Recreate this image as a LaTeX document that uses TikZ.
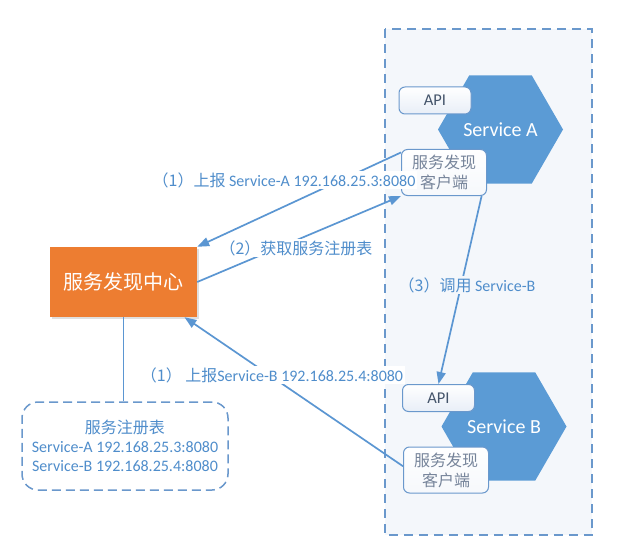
\documentclass[tikz,border=0pt]{standalone}
\usepackage{fontspec}
\setmainfont{Carlito}
\newfontfamily\cjk{Noto Sans CJK SC}
\usetikzlibrary{shapes.geometric,arrows.meta,shadows}
\definecolor{hexblue}{HTML}{5B9BD5}
\definecolor{lineblue}{HTML}{5B96D2}
\definecolor{labelblue}{HTML}{4F8DCB}
\definecolor{boxedge}{HTML}{6A98CC}
\definecolor{contfill}{HTML}{F4F7FB}
\definecolor{apitext}{HTML}{44546A}
\definecolor{clienttext}{HTML}{76849A}
\definecolor{orangebox}{HTML}{ED7D31}
\definecolor{boxshade}{HTML}{E8EEF7}
\begin{document}
\begin{tikzpicture}[x=1pt,y=-1pt,
  hexa/.style={regular polygon, regular polygon sides=6, minimum size=125pt,
    inner sep=0pt, outer sep=0pt, fill=hexblue, text=white,
    font=\fontsize{20}{24}\selectfont},
  apibox/.style={draw=boxedge, line width=1pt, rounded corners=6pt,
    top color=white, bottom color=boxshade, minimum width=72pt, minimum height=27pt,
    inner sep=0pt, text=apitext, font=\fontsize{16.5}{20}\selectfont},
  clientbox/.style={draw=boxedge, line width=1pt, rounded corners=6pt,
    top color=white, bottom color=white!60!boxshade, minimum width=85pt, minimum height=46pt,
    inner sep=0pt, align=center, text=clienttext, font=\cjk\fontsize{16}{20}\selectfont},
  arr/.style={draw=lineblue, line width=1.7pt, -{Triangle[length=12pt,width=9pt]}},
  plain/.style={draw=lineblue, line width=1.7pt},
  lbl/.style={fill=white, inner sep=1.5pt, text=labelblue, font=\fontsize{16}{19}\selectfont}
]
\useasboundingbox (0,0) rectangle (629,559);
% container
\path[draw=boxedge, line width=1.5pt, dash pattern=on 9pt off 6pt, fill=contfill]
  (385,29) rectangle (592,535);
% hexagons
\node[hexa] (sa) at (500.5,129.5) {Service A};
\node[hexa] (sb) at (504,426.5) {Service B};
% api boxes
\node[apibox] (apia) at (435,100.5) {API};
\node[apibox] (apib) at (438.5,398) {API};
% client boxes
\node[clientbox] (ca) at (444,172.5) {服务发现\\客户端};
\node[clientbox] (cb) at (446,470) {服务发现\\客户端};
% center
\node[fill=orangebox, minimum width=147pt, minimum height=70pt, inner sep=0pt,
  text=white, font=\cjk\fontsize{20}{24}\selectfont,
  drop shadow={opacity=0.25, shadow xshift=1.5pt, shadow yshift=-1.5pt}]
  (center) at (123.5,282) {服务发现中心};
% registry
\node[draw=boxedge, line width=1.5pt, dash pattern=on 9pt off 5pt, rounded corners=16pt,
  fill=white, minimum width=206pt, minimum height=88pt, inner sep=0pt, align=center,
  text=labelblue, font=\fontsize{16}{19}\selectfont]
  (reg) at (125,446) {{\cjk 服务注册表}\\Service-A 192.168.25.3:8080\\Service-B 192.168.25.4:8080};
% connectors
\draw[plain] (center.south) -- (center.south |- reg.north);
\draw[arr] (ca.155) -- (center.north east);
\draw[arr] (center.east) -- (ca.south west);
\draw[arr] (ca.-32) -- (apib.north);
\draw[arr] (cb.175) -- (center.-30.5);
% labels
\node[lbl] (la) at (284,180) {{\cjk （1）上报} Service-A 192.168.25.3:8080};
\node[lbl] (lb) at (296,248) {{\cjk （2）获取服务注册表}};
\node[lbl, fill=contfill] (lc) at (467,285) {{\cjk （3）调用} Service-B};
\node[lbl] (ld) at (272,375) {{\cjk （1） 上报}Service-B 192.168.25.4:8080};
\end{tikzpicture}
\end{document}
